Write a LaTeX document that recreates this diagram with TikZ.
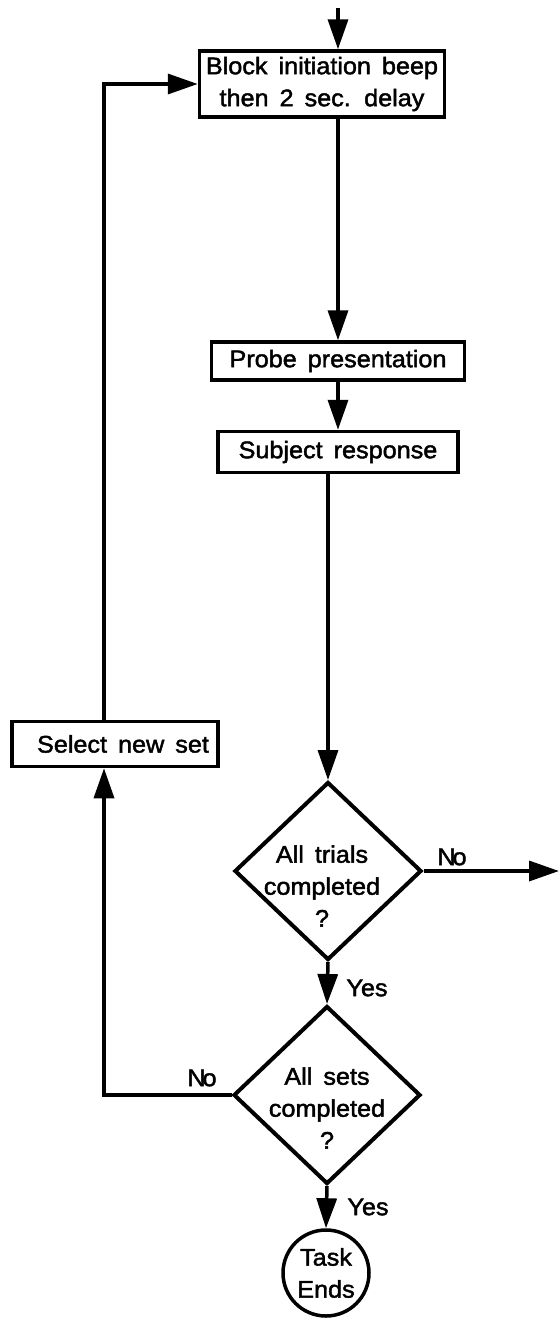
\documentclass[tikz,border=0pt]{standalone}
\usepackage{fontspec}
\setmainfont{Liberation Sans}[FakeStretch=1.05,FakeBold=1.8]
\usetikzlibrary{arrows.meta,shapes.geometric}
\newcommand\flowfont{\fontsize{24}{32}\selectfont\spaceskip=11pt plus 2pt minus 2pt\relax}
\begin{document}
\begin{tikzpicture}[x=1pt,y=-1pt,
  every node/.style={font=\flowfont},
  flow/.style={line width=3.5pt},
  arr/.style={flow,-{Triangle[length=30pt,width=20pt]}},
  box/.style={draw,line width=3.5pt,inner sep=0pt,align=center},
  dia/.style={draw,diamond,line width=4pt,inner sep=0pt,minimum width=187pt,minimum height=178pt},
  lbl/.style={align=center,inner sep=0pt},
  term/.style={draw,circle,line width=3.5pt,minimum size=86pt,inner sep=0pt,align=center}]
\useasboundingbox (0,0) rectangle (559,1318);

% process boxes
\node[box,minimum width=245pt,minimum height=66pt] (blk) at (322,84) {Block initiation beep\\then 2 sec. delay};
\node[box,minimum width=253pt,minimum height=38pt] (prb) at (338,361) {Probe presentation};
\node[box,minimum width=240pt,minimum height=41pt] (sub) at (338,452) {Subject response};
\node[box,minimum width=206pt,minimum height=45pt] (sel) at (115,744) {\hspace*{16pt}Select new set};

% decisions
\node[dia] (d1) at (328,871) {};
\node[lbl] (t1) at (322,886) {All trials\\completed\\?};
\node[dia] (d2) at (327,1095) {};
\node[lbl] (t2) at (327,1108) {All sets\\completed\\?};

% terminator
\node[term] (end) at (326,1273) {Task\\Ends};

% branch labels
\node[lbl] (no1) at (452,857) {N\kern-3pt o};
\node[lbl] (yes1) at (367,988) {Yes};
\node[lbl] (no2) at (202,1078) {N\kern-3pt o};
\node[lbl] (yes2) at (368,1207) {Yes};

% connectors
\coordinate (in) at (338,8);
\coordinate (out) at (559,871);
\coordinate (lx) at (104,0);
\draw[arr] (in) -- (in |- blk.north);
\draw[arr] (in |- blk.south) -- (in |- prb.north);
\draw[arr] (prb.south) -- (sub.north);
\draw[arr] (d1.north |- sub.south) -- (d1.north);
\draw[arr] (d1.east) -- (out);
\draw[arr] (d1.south) -- (d2.north);
\draw[arr] (d2.south) -- (end.north);
\draw[arr] (d2.west) -| (lx |- sel.south);
\draw[arr] (lx |- sel.north) |- (blk.west);
\end{tikzpicture}
\end{document}
